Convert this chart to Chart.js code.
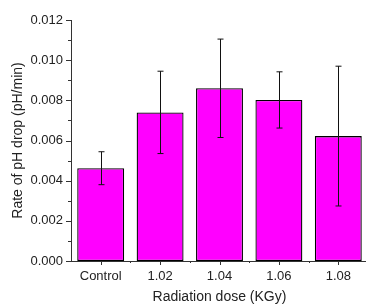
<!DOCTYPE html>
<html>
<head>
<meta charset="utf-8">
<script src="https://cdn.jsdelivr.net/npm/chart.js@4"></script>
<style>
  html, body { margin: 0; padding: 0; background: #fff; width: 366px; height: 306px; overflow: hidden; }
  canvas { display: block; }
</style>
</head>
<body>
<canvas id="myChart" width="372" height="306"></canvas>
<script>
var categories = ['Control', '1.02', '1.04', '1.06', '1.08']
var rates = [0.00462, 0.00740, 0.00860, 0.00802, 0.00622]
var errors = [0.00082, 0.00205, 0.00245, 0.00140, 0.00348]
var yTicks = [0, 0.002, 0.004, 0.006, 0.008, 0.010, 0.012]

var axisColor = '#333333'

// error bars + small tick marks, drawn through the scales
var extras = {
  id: 'extras',
  afterDatasetsDraw: function (chart) {
    var c = chart.ctx
    var y = chart.scales.y
    var x = chart.scales.x
    var meta = chart.getDatasetMeta(0)
    c.save()
    c.strokeStyle = '#111'
    c.lineWidth = 1
    meta.data.forEach(function (bar, i) {
      var px = Math.round(bar.x) + 0.5
      var hi = y.getPixelForValue(rates[i] + errors[i])
      var lo = y.getPixelForValue(rates[i] - errors[i])
      c.beginPath()
      c.moveTo(px, hi); c.lineTo(px, lo)
      c.moveTo(px - 3, hi); c.lineTo(px + 3, hi)
      c.moveTo(px - 3, lo); c.lineTo(px + 3, lo)
      c.stroke()
    })
    c.strokeStyle = axisColor
    var left = chart.chartArea.left
    var bottom = chart.chartArea.bottom
    for (var v = 0; v <= 0.0121; v += 0.001) {
      var py = Math.round(y.getPixelForValue(v)) + 0.5
      var major = Math.round(v * 1000) % 2 === 0
      c.beginPath()
      c.moveTo(left - (major ? 5 : 3), py); c.lineTo(left, py)
      c.stroke()
    }
    for (var i = 0; i < categories.length; i++) {
      var cx = Math.round(x.getPixelForValue(i)) + 0.5
      c.beginPath()
      c.moveTo(cx, bottom); c.lineTo(cx, bottom + 4)
      c.stroke()
      if (i > 0) {
        var bx = Math.round((x.getPixelForValue(i) + x.getPixelForValue(i - 1)) / 2) + 0.5
        c.beginPath()
        c.moveTo(bx, bottom); c.lineTo(bx, bottom + 2)
        c.stroke()
      }
    }
    c.restore()
  }
}

new Chart(document.getElementById('myChart'), {
  type: 'bar',
  data: {
    labels: categories,
    datasets: [{
      label: 'Rate of pH drop',
      data: rates,
      backgroundColor: '#ff00ff',
      borderColor: '#000000',
      borderWidth: 1.3,
      borderSkipped: false,
      barPercentage: 0.79,
      categoryPercentage: 1
    }]
  },
  options: {
    responsive: false,
    animation: false,
    layout: { padding: { top: 20, right: 4, left: 0, bottom: 0 } },
    plugins: { legend: { display: false }, tooltip: { enabled: false } },
    scales: {
      x: {
        grid: { display: false, tickLength: 0 },
        border: { display: true, color: axisColor, width: 1 },
        ticks: { color: '#222', font: { family: 'Liberation Sans', size: 13 }, padding: 8 },
        title: {
          display: true, text: 'Radiation dose (KGy)', color: '#222',
          font: { family: 'Liberation Sans', size: 14 }, padding: { top: 0, bottom: 0 }
        },
        afterFit: function (s) { s.height = 45 }
      },
      y: {
        min: 0,
        max: 0.012,
        afterBuildTicks: function (s) { s.ticks = yTicks.map(function (v) { return { value: v } }) },
        grid: { display: false, tickLength: 0 },
        border: { display: true, color: axisColor, width: 1 },
        ticks: {
          color: '#222', font: { family: 'Liberation Sans', size: 13 }, padding: 8,
          callback: function (v) { return v.toFixed(3) }
        },
        title: {
          display: true, text: 'Rate of pH drop (pH/min)', color: '#222',
          font: { family: 'Liberation Sans', size: 14 }, padding: { top: 10, bottom: 0 }
        },
        afterFit: function (s) { s.width = 71 }
      }
    }
  },
  plugins: [extras]
});
</script>
</body>
</html>
